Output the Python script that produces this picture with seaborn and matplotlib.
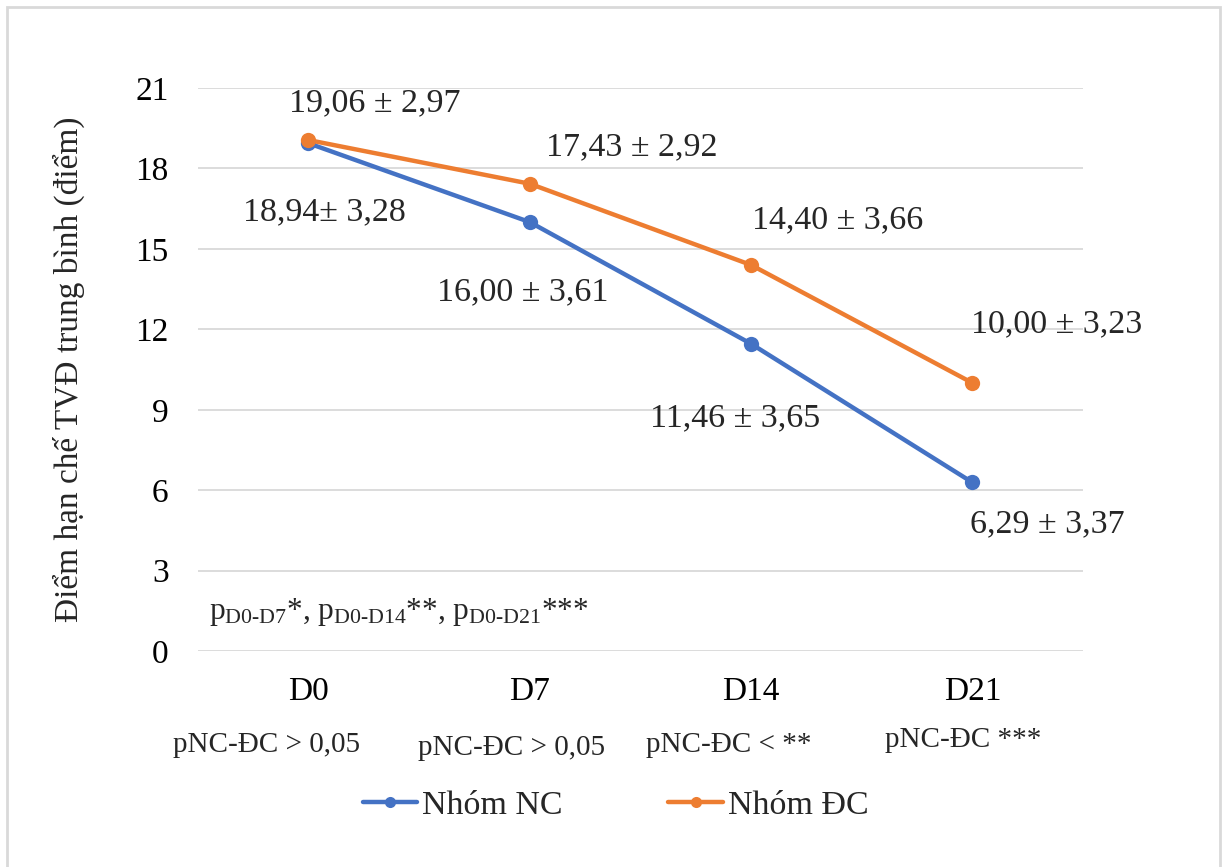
import matplotlib
matplotlib.use("Agg")
import matplotlib.pyplot as plt
import pandas as pd
import seaborn as sns
from matplotlib.patches import Rectangle

days = ["D0", "D7", "D14", "D21"]
nc_mean = [18.94, 16.00, 11.46, 6.29]
dc_mean = [19.06, 17.43, 14.40, 10.00]
nc_text = ["18,94± 3,28", "16,00 ± 3,61", "11,46 ± 3,65", "6,29 ± 3,37"]
dc_text = ["19,06 ± 2,97", "17,43 ± 2,92", "14,40 ± 3,66", "10,00 ± 3,23"]
p_between = ["pNC-ĐC > 0,05", "pNC-ĐC > 0,05", "pNC-ĐC < **", "pNC-ĐC ***"]
group_names = ["Nhóm NC", "Nhóm ĐC"]
y_label = "Điểm hạn chế TVĐ trung bình (điểm)"
y_ticks = [0, 3, 6, 9, 12, 15, 18, 21]

# label offsets from each point (data units)
nc_off = [(0.07, -2.57), (-0.03, -2.61), (-0.07, -2.77), (0.34, -1.55)]
dc_off = [(0.30, 1.38), (0.46, 1.37), (0.39, 1.68), (0.38, 2.20)]
p_off_x = [-0.19, -0.08, -0.10, -0.04]
p_off_y = [0, -0.1, 0, 0.2]


def main():
    sns.set_style("white")
    plt.rcParams['font.family'] = ['Liberation Serif', 'DejaVu Serif']
    plt.rcParams['mathtext.fontset'] = 'custom'
    plt.rcParams['mathtext.rm'] = 'Liberation Serif'
    plt.rcParams['mathtext.it'] = 'Liberation Serif'

    df = pd.DataFrame({
        "day": days * 2,
        "score": nc_mean + dc_mean,
        "group": [group_names[0]] * 4 + [group_names[1]] * 4,
    })

    fig = plt.figure(figsize=(12.28, 8.67), dpi=100)
    ax = fig.add_axes([0.161, 0.249, 0.721, 0.6495])
    colors = ["#4472C4", "#ED7D31"]
    sns.lineplot(data=df, x="day", y="score", hue="group", palette=colors,
                 marker="o", markersize=11, markeredgewidth=0, linewidth=3.2,
                 sort=False, ax=ax)

    ax.set_xlim(-0.5, 3.5)
    ax.set_ylim(0, 21)
    ax.set_yticks(y_ticks)
    ax.grid(axis="y", color="#D9D9D9", linewidth=1.3)
    ax.set_axisbelow(True)
    for s in ax.spines.values():
        s.set_visible(False)
    ax.tick_params(axis="both", length=0, labelsize=24, colors="#000000")
    ax.tick_params(axis="y", pad=21)
    ax.tick_params(axis="x", pad=18)
    ax.set_xlabel("")
    ax.set_ylabel(y_label, fontsize=24, labelpad=36)

    for i in range(4):
        ax.text(i + nc_off[i][0], nc_mean[i] + nc_off[i][1], nc_text[i],
                ha="center", va="center", fontsize=24.5)
        ax.text(i + dc_off[i][0], dc_mean[i] + dc_off[i][1], dc_text[i],
                ha="center", va="center", fontsize=24.5)
        ax.text(i + p_off_x[i], -3.5 + p_off_y[i], p_between[i],
                ha="center", va="center", fontsize=21)

    ax.text(-0.45, 1.45,
            r"p$_{\text{D0-D7}}$*, p$_{\text{D0-D14}}$**, p$_{\text{D0-D21}}$***",
            ha="left", va="center", fontsize=22.5)

    leg = ax.legend(loc="center", bbox_to_anchor=(0.472, -0.275), ncol=2,
                    frameon=False, fontsize=24.5, handlelength=1.6,
                    columnspacing=3.1, handletextpad=0.15)
    for h in leg.get_lines():
        h.set_linewidth(3.2)
        h.set_markersize(8)

    fig.patches.append(Rectangle((7 / 1228, -0.01), (1220 - 7) / 1228, 1 - 7 / 867 + 0.01,
                                 transform=fig.transFigure, fill=False,
                                 edgecolor="#D9D9D9", linewidth=2))
    fig.savefig("out.png", dpi=100, facecolor="white")


if __name__ == "__main__":
    main()
